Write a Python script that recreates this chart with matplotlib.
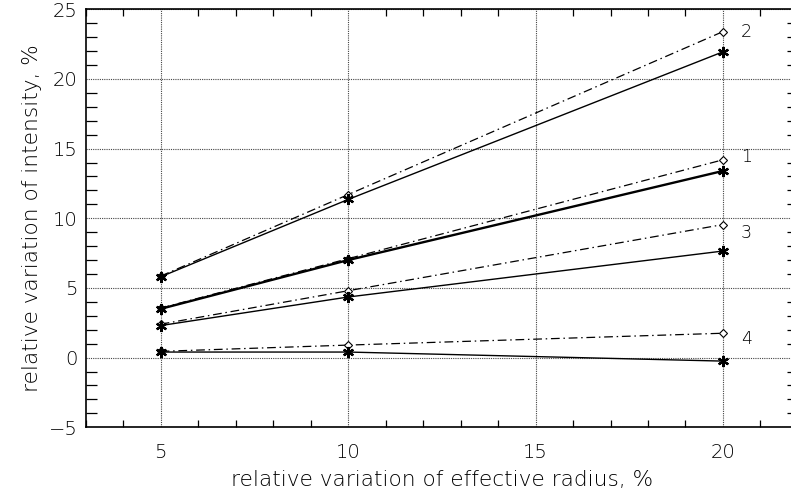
import numpy as np
import matplotlib
matplotlib.use('Agg')
import matplotlib.pyplot as plt
from matplotlib.ticker import MultipleLocator

# effective radius variation, %
radius = [5, 10, 20]

# intensity variation, % : dash-dot (diamonds) and solid (asterisks) for each case
curves = ['1', '2', '3', '4']
dashdot = {
    '1': [3.55, 7.1, 14.2],
    '2': [5.85, 11.7, 23.4],
    '3': [2.4, 4.8, 9.55],
    '4': [0.45, 0.9, 1.75],
}
solid = {
    '1': [3.5, 7.0, 13.4],
    '2': [5.8, 11.35, 21.95],
    '3': [2.3, 4.35, 7.65],
    '4': [0.4, 0.4, -0.25],
}
solid_lw = {'1': 1.7, '2': 1.0, '3': 1.0, '4': 1.0}
# vertical nudge of the curve number next to the last point (points)
label_dy = {'1': 2, '2': 0, '3': -6, '4': -4}

plt.rcParams['font.family'] = 'DejaVu Sans'
plt.rcParams['font.weight'] = 'light'
plt.rcParams['axes.labelweight'] = 'light'

fig = plt.figure(figsize=(7.91, 4.95), dpi=100)
ax = fig.add_axes([0.1083, 0.1368, 0.9005, 0.8444])

for c in curves:
    ax.plot(radius, dashdot[c], color='black', lw=0.9, dashes=(7, 3, 1.2, 3),
            marker='D', ms=4.5, mfc='white', mec='black', mew=0.8)
    ax.plot(radius, solid[c], color='black', lw=solid_lw[c],
            marker=(6, 2, 0), ms=8, mew=1.6)
    ax.annotate(c, (radius[-1], dashdot[c][-1]), xytext=(13, label_dy[c]),
                textcoords='offset points', ha='left', va='center', fontsize=12.5)

ax.set_xlim(3, 22)
ax.set_ylim(-5, 25)
ax.xaxis.set_major_locator(MultipleLocator(5))
ax.yaxis.set_major_locator(MultipleLocator(5))
ax.xaxis.set_minor_locator(MultipleLocator(1))
ax.yaxis.set_minor_locator(MultipleLocator(1))

ax.grid(True, which='major', linestyle=(0, (1, 1)), color='#444444', lw=0.8)
ax.tick_params(which='major', length=0, labelsize=14, labelcolor='black')
ax.tick_params(axis='x', which='major', pad=11)
ax.tick_params(axis='y', which='major', pad=6)
ax.tick_params(which='minor', direction='in', top=True, right=True, width=0.9)
ax.tick_params(axis='y', which='minor', length=8)
ax.tick_params(axis='x', which='minor', length=4.7)
for s in ax.spines.values():
    s.set_linewidth(1.2)
ax.spines['right'].set_visible(False)

ax.set_xlabel('relative variation of effective radius, %', fontsize=15.6, labelpad=6)
ax.set_ylabel('relative variation of intensity, %', fontsize=15.6, labelpad=5)

fig.savefig('out.png', dpi=100)
